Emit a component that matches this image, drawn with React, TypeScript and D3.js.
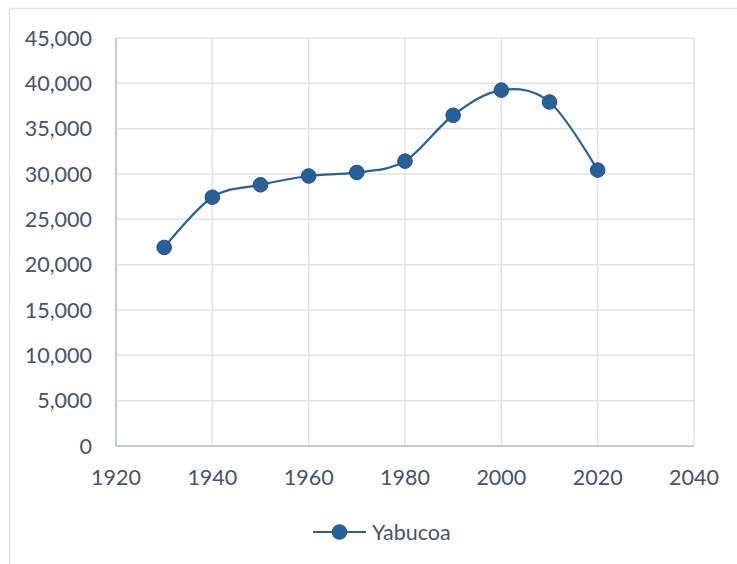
import React from 'react';
import * as d3 from 'd3';

// census years and population for Yabucoa
const years = [1930, 1940, 1950, 1960, 1970, 1980, 1990, 2000, 2010, 2020];
const population = [21900, 27440, 28810, 29780, 30170, 31420, 36480, 39250, 37940, 30430];
const xTicks = [1920, 1940, 1960, 1980, 2000, 2020, 2040];
const yTicks = [0, 5000, 10000, 15000, 20000, 25000, 30000, 35000, 40000, 45000];
const seriesName = 'Yabucoa';

const W = 737;
const H = 564;
const margin = { top: 38, right: 43, bottom: 118, left: 116 };

const textColor = '#44546a';
const gridColor = '#dfe3e9';
const axisColor = '#b7bfcc';
const lineColor = '#2a6098';
const font = 'Lato, "Open Sans", sans-serif';
const fontSize = 21.5;

const App = () => {
  const x = d3.scaleLinear()
    .domain([1920, 2040])
    .range([margin.left, W - margin.right]);

  const y = d3.scaleLinear()
    .domain([0, 45000])
    .range([H - margin.bottom, margin.top]);

  const pts = years.map((yr, i) => [yr, population[i]] as [number, number]);

  const line = d3.line<[number, number]>()
    .x(d => x(d[0]))
    .y(d => y(d[1]))
    .curve(d3.curveCatmullRom.alpha(0));

  const fmt = d3.format(',');
  const legendY = 532;

  return (
    <div style={{ position: 'absolute', left: 0, top: 0 }}>
      <svg width={W} height={H} style={{ display: 'block', background: '#fff' }}>
        {/* chart frame, runs off the right and bottom edge */}
        <rect x={9.5} y={8.5} width={W} height={H} fill="#fff" stroke={gridColor} strokeWidth={1.5} />

        {/* gridlines */}
        {yTicks.map(t => (
          <line key={'gy' + t} x1={x(1920)} x2={x(2040)} y1={y(t)} y2={y(t)} stroke={gridColor} strokeWidth={1.5} />
        ))}
        {xTicks.map(t => (
          <line key={'gx' + t} x1={x(t)} x2={x(t)} y1={y(0)} y2={y(45000)} stroke={gridColor} strokeWidth={1.5} />
        ))}

        {/* axes */}
        <line x1={x(1920)} x2={x(1920)} y1={y(0)} y2={y(45000)} stroke={axisColor} strokeWidth={1.5} />
        <line x1={x(1920)} x2={x(2040)} y1={y(0)} y2={y(0)} stroke={axisColor} strokeWidth={1.5} />

        {/* tick labels */}
        {yTicks.map(t => (
          <text key={'ly' + t} x={x(1920) - 24} y={y(t)} dy="0.35em" textAnchor="end"
            fontFamily={font} fontSize={fontSize} fill={textColor}>{fmt(t)}</text>
        ))}
        {xTicks.map(t => (
          <text key={'lx' + t} x={x(t)} y={y(0) + 39} textAnchor="middle"
            fontFamily={font} fontSize={fontSize} fill={textColor}>{t}</text>
        ))}

        {/* series */}
        <path d={line(pts) || ''} fill="none" stroke={lineColor} strokeWidth={2.2} />
        {pts.map(d => (
          <circle key={d[0]} cx={x(d[0])} cy={y(d[1])} r={7.3} fill={lineColor} stroke="#1f5185" strokeWidth={1} />
        ))}

        {/* legend */}
        <line x1={313} x2={366} y1={legendY} y2={legendY} stroke={lineColor} strokeWidth={2.2} />
        <circle cx={339.5} cy={legendY} r={7.3} fill={lineColor} stroke="#1f5185" strokeWidth={1} />
        <text x={372} y={legendY} dy="0.35em" fontFamily={font} fontSize={fontSize} fill={textColor}>{seriesName}</text>
      </svg>
    </div>
  );
};

export default App;
